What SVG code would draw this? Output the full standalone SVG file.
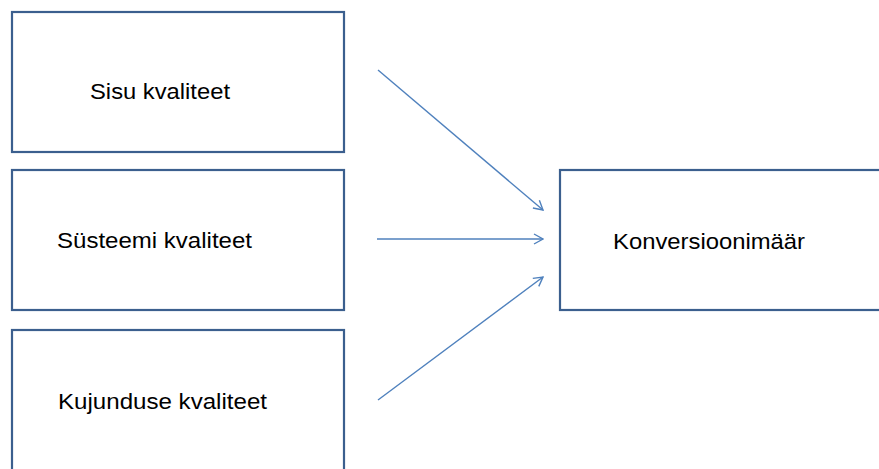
<svg xmlns="http://www.w3.org/2000/svg" width="879" height="469" viewBox="0 0 879 469">
<style>
.box{fill:#ffffff;stroke:#3b5f8e;stroke-width:2.2}
.lbl{font-family:"Liberation Sans",Arial,sans-serif;font-size:22px;fill:#000000}
.con{fill:none;stroke:#4f81bd;stroke-width:1.4}
</style>
<defs>
<marker id="arr" viewBox="0 0 12 12" refX="11" refY="6" markerWidth="12" markerHeight="12" markerUnits="userSpaceOnUse" orient="auto">
<path d="M2,1 L11,6 L2,11" fill="none" stroke="#4f81bd" stroke-width="1.4"/>
</marker>
</defs>
<rect width="879" height="469" fill="#ffffff"/>
<g id="sisu">
<rect class="box" x="12" y="12" width="332" height="140"/>
<text class="lbl" x="90" y="99" textLength="140" lengthAdjust="spacingAndGlyphs">Sisu kvaliteet</text>
</g>
<g id="systeemi">
<rect class="box" x="12" y="170" width="332" height="140"/>
<text class="lbl" x="57" y="248" textLength="195" lengthAdjust="spacingAndGlyphs">Süsteemi kvaliteet</text>
</g>
<g id="kujunduse">
<rect class="box" x="12" y="330" width="332" height="150"/>
<text class="lbl" x="58" y="409" textLength="209" lengthAdjust="spacingAndGlyphs">Kujunduse kvaliteet</text>
</g>
<g id="konversioon">
<rect class="box" x="560" y="170" width="330" height="140"/>
<text class="lbl" x="613" y="249" textLength="192" lengthAdjust="spacingAndGlyphs">Konversioonimäär</text>
</g>
<g id="connectors">
<line class="con" x1="378" y1="70" x2="543" y2="210" marker-end="url(#arr)"/>
<line class="con" x1="377" y1="239" x2="543" y2="239" marker-end="url(#arr)"/>
<line class="con" x1="378" y1="400" x2="543" y2="277" marker-end="url(#arr)"/>
</g>
</svg>
